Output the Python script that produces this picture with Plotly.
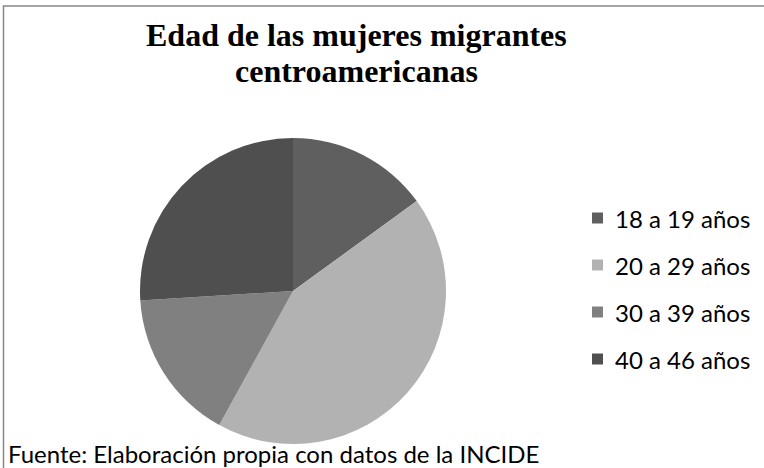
import plotly.graph_objects as go

categories = ["18 a 19 años", "20 a 29 años", "30 a 39 años", "40 a 46 años"]
values = [15, 43, 16, 26]
colors = ["#5f5f5f", "#b2b2b2", "#808080", "#4f4f4f"]
title_lines = ["Edad de las mujeres migrantes", "centroamericanas"]
source_text = "Fuente: Elaboración propia con datos de la INCIDE"

W, H = 764, 468

fig = go.Figure()
fig.add_trace(go.Pie(
    labels=categories,
    values=values,
    marker=dict(colors=colors, line=dict(width=0)),
    sort=False,
    direction="clockwise",
    rotation=0,
    textinfo="none",
    hoverinfo="label+percent",
    showlegend=False,
    domain=dict(x=[140 / W, 446 / W], y=[1 - 444 / H, 1 - 138 / H]),
))

shapes = []
annotations = []

# chart frame (right and bottom edges fall outside the picture)
shapes.append(dict(type="rect", xref="paper", yref="paper",
                   x0=3.5 / W, x1=1.1, y0=-0.1, y1=1 - 6 / H,
                   line=dict(color="#868686", width=1.5), fillcolor="rgba(0,0,0,0)",
                   layer="below"))

# title
title_y = [35, 71]
for line, ty in zip(title_lines, title_y):
    annotations.append(dict(text="<b>" + line + "</b>", x=356 / W, y=1 - ty / H,
                            xref="paper", yref="paper", xanchor="center", yanchor="middle",
                            showarrow=False,
                            font=dict(family="Liberation Serif", size=32, color="#000000")))

# legend
row_y = [218, 265, 312, 359]
sq = 11
for cat, col, ry in zip(categories, colors, row_y):
    shapes.append(dict(type="rect", xref="paper", yref="paper",
                       x0=592 / W, x1=(592 + sq) / W,
                       y0=1 - (ry + sq / 2) / H, y1=1 - (ry - sq / 2) / H,
                       line=dict(width=0), fillcolor=col))
    annotations.append(dict(text=cat, x=613 / W, y=1 - ry / H,
                            xref="paper", yref="paper", xanchor="left", yanchor="middle",
                            showarrow=False,
                            font=dict(family="Lato", size=24, color="#000000")))

# source note
annotations.append(dict(text=source_text, x=6 / W, y=1 - 453 / H,
                        xref="paper", yref="paper", xanchor="left", yanchor="middle",
                        showarrow=False,
                        font=dict(family="Lato", size=24, color="#000000")))

fig.update_layout(
    width=W, height=H,
    margin=dict(l=0, r=0, t=0, b=0),
    paper_bgcolor="#ffffff",
    plot_bgcolor="#ffffff",
    shapes=shapes,
    annotations=annotations,
)

fig.write_html("out.html", config={"displayModeBar": False},
               post_script="document.body.style.margin='0';")
